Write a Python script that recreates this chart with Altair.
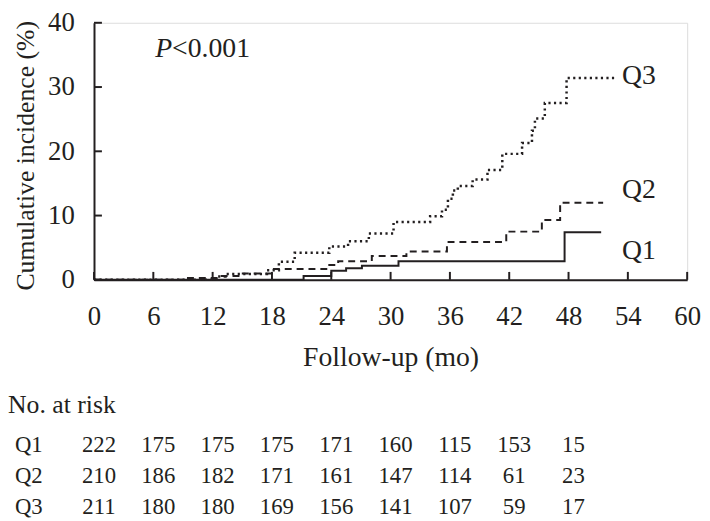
import altair as alt
import pandas as pd

# ---- data ----
q1_t = [0, 21.2, 24.0, 25.5, 27.1, 30.8, 47.6, 51.3]
q1_v = [0, 0.6, 1.4, 1.8, 2.2, 2.9, 7.4, 7.4]

q2_t = [0, 9.3, 12.6, 14.8, 18.0, 23.8, 24.7, 28.1, 31.6, 35.7, 41.7, 45.3, 47.15, 51.5]
q2_v = [0, 0.3, 0.6, 1.0, 1.7, 2.3, 2.9, 3.7, 4.4, 5.9, 7.5, 9.3, 12.0, 12.0]

q3_t = [0, 12.5, 13.3, 17.5, 18.7, 20.3, 23.8, 25.7, 27.8, 30.3, 34.0, 35.2, 35.8,
        36.3, 36.8, 38.3, 39.8, 41.3, 43.3, 44.3, 44.6, 45.6, 47.8, 52.7]
q3_v = [0, 0.5, 0.9, 1.5, 2.8, 4.2, 5.2, 6.0, 7.2, 9.0, 9.9, 10.9, 12.6,
        13.9, 14.6, 15.6, 17.1, 19.6, 21.3, 23.2, 25.1, 27.5, 31.4, 31.4]

risk_times = [0, 6, 12, 18, 24, 30, 36, 42, 48]
risk_q1 = [222, 175, 175, 175, 171, 160, 115, 153, 15]
risk_q2 = [210, 186, 182, 171, 161, 147, 114, 61, 23]
risk_q3 = [211, 180, 180, 169, 156, 141, 107, 59, 17]
groups = ["Q1", "Q2", "Q3"]

x_ticks = [0, 6, 12, 18, 24, 30, 36, 42, 48, 54, 60]
y_ticks = [0, 10, 20, 30, 40]

INK = "#231f20"
FONT = "Liberation Serif"

xs = alt.Scale(domain=[0, 60], nice=False, zero=False)
ys = alt.Scale(domain=[0, 40], nice=False)


def curve(t, v, dash, sw):
    df = pd.DataFrame({"t": t, "v": v})
    kw = dict(interpolate="step-after", color=INK, strokeWidth=sw)
    if dash:
        kw["strokeDash"] = dash
    return alt.Chart(df).mark_line(**kw).encode(
        x=alt.X("t:Q", scale=xs,
                axis=alt.Axis(values=x_ticks, title="Follow-up (mo)", grid=False,
                              ticks=False, tickSize=0, labelPadding=45,
                              labelBaseline="alphabetic", labelFontSize=27,
                              labelFont=FONT, labelColor=INK, labelFlush=False,
                              domainColor=INK, domainWidth=2,
                              titleFontSize=28, titleFont=FONT, titleColor=INK,
                              titleFontWeight="normal", titleBaseline="alphabetic",
                              titleY=87)),
        y=alt.Y("v:Q", scale=ys,
                axis=alt.Axis(values=y_ticks, title="Cumulative incidence (%)",
                              grid=False, ticks=False, tickSize=0, labelPadding=20,
                              labelFontSize=27, labelFont=FONT, labelColor=INK,
                              labelBaseline="middle", labelFlush=False,
                              domainColor=INK, domainWidth=2,
                              titleFontSize=26, titleFont=FONT, titleColor=INK,
                              titleFontWeight="normal", titleX=-69, titleY=134,
                              titleAlign="center", titleBaseline="middle")),
    )


c1 = curve(q1_t, q1_v, None, 2)
c2 = curve(q2_t, q2_v, [7, 5], 2)
c3 = curve(q3_t, q3_v, [2.2, 3.4], 2.5)

xt = alt.Chart(pd.DataFrame({"t": x_ticks})).mark_rule(color=INK, strokeWidth=2).encode(
    x=alt.X("t:Q", scale=xs), y=alt.value(260), y2=alt.value(252))
yt = alt.Chart(pd.DataFrame({"v": y_ticks})).mark_rule(color=INK, strokeWidth=2).encode(
    y=alt.Y("v:Q", scale=ys), x=alt.value(0), x2=alt.value(8))

one = pd.DataFrame({"a": [0]})


def label(txt, x, y, size=27, style="normal"):
    return alt.Chart(one).mark_text(text=txt, font=FONT, fontSize=size, color=INK,
                                    align="left", baseline="alphabetic",
                                    fontStyle=style).encode(x=alt.value(x), y=alt.value(y))


p1 = label("P", 62, 35, 28, "italic")
p2 = label("<0.001", 79, 35, 28)
l3 = label("Q3", 534, 62, 28)
l2 = label("Q2", 534, 177, 28)
l1 = label("Q1", 534, 239, 28)

plot = alt.layer(c1, c2, c3, xt, yt, p1, p2, l3, l2, l1)

# ---- risk table ----
rows = []
for g, vals in zip(groups, [risk_q1, risk_q2, risk_q3]):
    for t, n in zip(risk_times, vals):
        rows.append({"g": g, "t": t, "n": str(n)})
risk_df = pd.DataFrame(rows)
rowscale = alt.Scale(domain=groups, range=[434, 497], type="point", padding=0)

nums = alt.Chart(risk_df).mark_text(font=FONT, fontSize=23, color=INK, align="center",
                                    baseline="alphabetic", dx=5).encode(
    x=alt.X("t:Q", scale=xs),
    y=alt.Y("g:N", scale=rowscale, axis=None),
    text="n:N")
glab = alt.Chart(pd.DataFrame({"g": groups})).mark_text(
    font=FONT, fontSize=23, color=INK, align="left", baseline="alphabetic").encode(
    x=alt.value(-80),
    y=alt.Y("g:N", scale=rowscale, axis=None),
    text="g:N")
nar = label("No. at risk", -87, 395, 26)

table = alt.layer(nums, glab, nar)

chart = alt.layer(plot, table).resolve_scale(y="independent").properties(
    width=600, height=260,
    autosize=alt.AutoSizeParams(type="none"),
    padding={"left": 87, "top": 12, "right": 15, "bottom": 241},
).configure_view(stroke=None).configure(background="white")

chart.save("out.html", embed_options={"renderer": "svg", "actions": False})
